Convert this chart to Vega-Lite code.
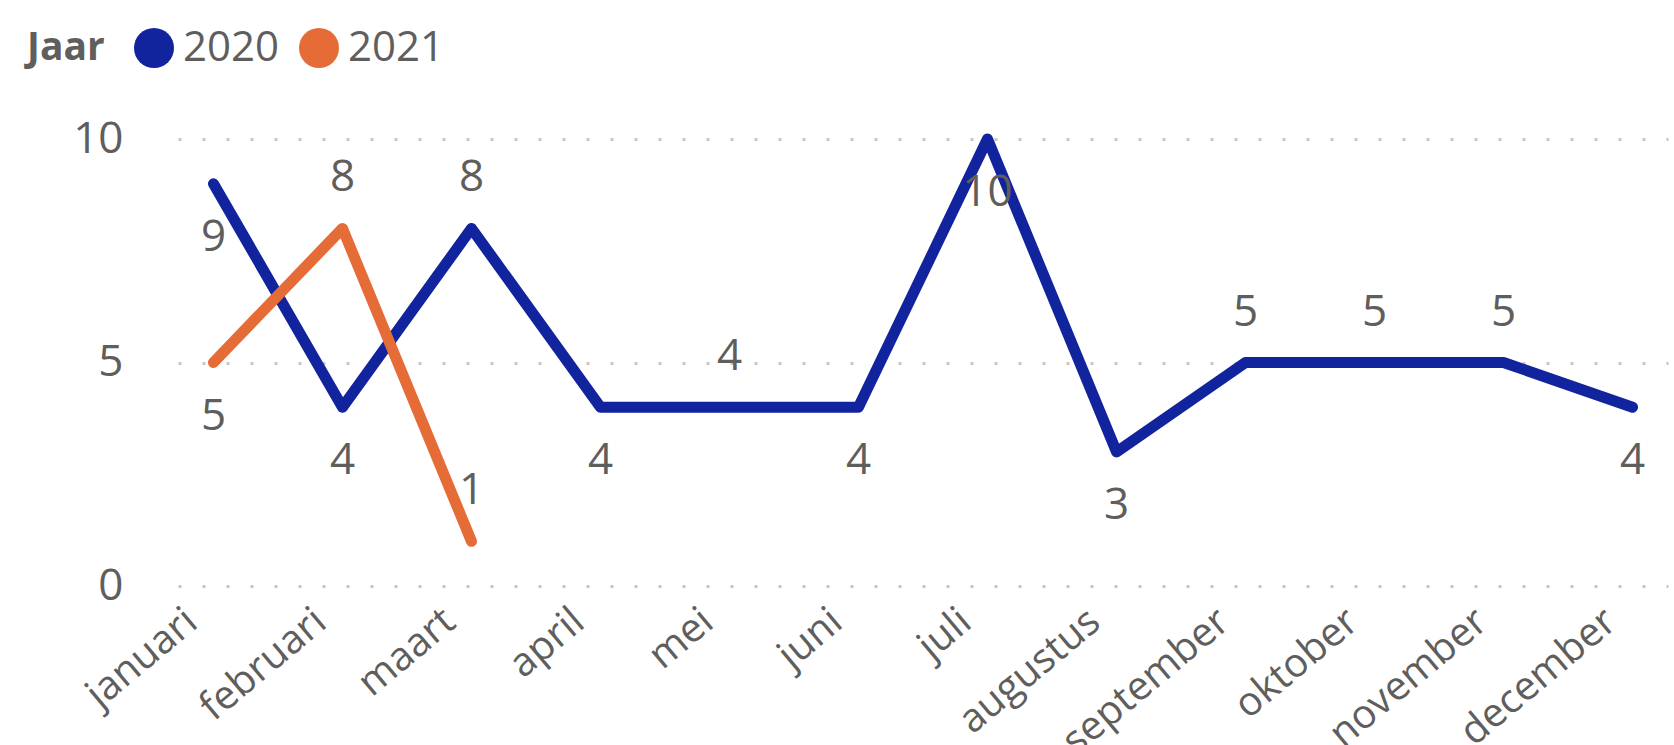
{
  "$schema": "https://vega.github.io/schema/vega-lite/v6.json",
  "width": 1490,
  "height": 447,
  "autosize": {"type": "none"},
  "padding": {"left": 178, "top": 139, "right": 6, "bottom": 159},
  "background": "white",
  "config": {"view": {"stroke": null}, "font": "Open Sans"},
  "data": {
    "values": [
      {"jaar": "2020", "maand": "januari", "aantal": 9},
      {"jaar": "2020", "maand": "februari", "aantal": 4},
      {"jaar": "2020", "maand": "maart", "aantal": 8},
      {"jaar": "2020", "maand": "april", "aantal": 4},
      {"jaar": "2020", "maand": "mei", "aantal": 4},
      {"jaar": "2020", "maand": "juni", "aantal": 4},
      {"jaar": "2020", "maand": "juli", "aantal": 10},
      {"jaar": "2020", "maand": "augustus", "aantal": 3},
      {"jaar": "2020", "maand": "september", "aantal": 5},
      {"jaar": "2020", "maand": "oktober", "aantal": 5},
      {"jaar": "2020", "maand": "november", "aantal": 5},
      {"jaar": "2020", "maand": "december", "aantal": 4},
      {"jaar": "2021", "maand": "januari", "aantal": 5},
      {"jaar": "2021", "maand": "februari", "aantal": 8},
      {"jaar": "2021", "maand": "maart", "aantal": 1}
    ]
  },
  "encoding": {
    "x": {
      "field": "maand",
      "type": "ordinal",
      "sort": ["januari", "februari", "maart", "april", "mei", "juni", "juli", "augustus", "september", "oktober", "november", "december"],
      "scale": {"type": "point", "padding": 0.275},
      "axis": {
        "title": null,
        "domain": false,
        "ticks": false,
        "grid": false,
        "labelAngle": -40,
        "labelAlign": "right",
        "labelBaseline": "middle",
        "labelFontSize": 40,
        "labelColor": "#605E5C",
        "labelPadding": 30,
        "labelOffset": -22,
        "labelLimit": 0,
        "labelOverlap": false
      }
    },
    "y": {
      "field": "aantal",
      "type": "quantitative",
      "scale": {"domain": [0, 10]},
      "axis": {
        "title": null,
        "domain": false,
        "ticks": false,
        "values": [0, 5, 10],
        "grid": true,
        "gridDash": [3, 21],
        "gridColor": "#C8C6C4",
        "gridWidth": 3,
        "labelFontSize": 44,
        "labelColor": "#605E5C",
        "labelPadding": 55
      }
    },
    "color": {
      "field": "jaar",
      "type": "nominal",
      "scale": {"domain": ["2020", "2021"], "range": ["#12239E", "#E66C37"]},
      "legend": {
        "title": "Jaar",
        "orient": "none",
        "legendX": -151,
        "legendY": -112,
        "direction": "horizontal",
        "titleOrient": "left",
        "titleFontSize": 39,
        "titleFontWeight": "bold",
        "titleColor": "#605E5C",
        "titlePadding": 28,
        "titleBaseline": "middle",
        "labelFontSize": 42,
        "labelColor": "#605E5C",
        "labelOffset": 8,
        "columnPadding": 18,
        "symbolType": "circle",
        "symbolSize": 1600,
        "symbolOpacity": 1,
        "encode": {
          "symbols": {
            "update": {
              "fill": {"scale": "color", "field": "value"},
              "strokeWidth": {"value": 0}
            }
          }
        }
      }
    }
  },
  "layer": [
    {
      "mark": {"type": "line", "strokeWidth": 11, "strokeCap": "round", "strokeJoin": "round"}
    },
    {
      "transform": [
        {"filter": "(datum.jaar == '2020' && indexof(['maart','mei','september','oktober','november'], datum.maand) >= 0) || (datum.jaar == '2021' && indexof(['februari','maart'], datum.maand) >= 0)"}
      ],
      "mark": {"type": "text", "dy": -50, "baseline": "middle", "align": "center", "fontSize": 44, "color": "#605E5C"},
      "encoding": {"text": {"field": "aantal", "type": "quantitative"}, "color": {"value": "#605E5C"}}
    },
    {
      "transform": [
        {"filter": "!((datum.jaar == '2020' && indexof(['maart','mei','september','oktober','november'], datum.maand) >= 0) || (datum.jaar == '2021' && indexof(['februari','maart'], datum.maand) >= 0))"}
      ],
      "mark": {"type": "text", "dy": 54, "baseline": "middle", "align": "center", "fontSize": 44, "color": "#605E5C"},
      "encoding": {"text": {"field": "aantal", "type": "quantitative"}, "color": {"value": "#605E5C"}}
    }
  ]
}
